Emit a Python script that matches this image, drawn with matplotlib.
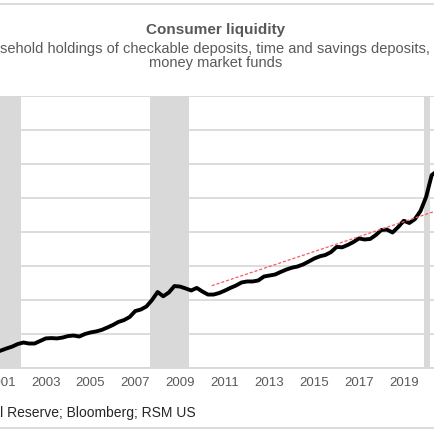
import matplotlib
matplotlib.use("Agg")
import matplotlib.pyplot as plt
import numpy as np

plt.rcParams['font.family'] = ['Liberation Sans', 'DejaVu Sans']

# ---- data (trillions of dollars, quarterly) ----
quarters = [2000.75,
            2001.0, 2001.25, 2001.5, 2001.75,
            2002.0, 2002.25, 2002.5, 2002.75,
            2003.0, 2003.25, 2003.5, 2003.75,
            2004.0, 2004.25, 2004.5, 2004.75,
            2005.0, 2005.25, 2005.5, 2005.75,
            2006.0, 2006.25, 2006.5, 2006.75,
            2007.0, 2007.25, 2007.5, 2007.75,
            2008.0, 2008.25, 2008.5, 2008.75,
            2009.0, 2009.25, 2009.5, 2009.75,
            2010.0, 2010.25, 2010.5, 2010.75,
            2011.0, 2011.25, 2011.5, 2011.75,
            2012.0, 2012.25, 2012.5, 2012.75,
            2013.0, 2013.25, 2013.5, 2013.75,
            2014.0, 2014.25, 2014.5, 2014.75,
            2015.0, 2015.25, 2015.5, 2015.75,
            2016.0, 2016.25, 2016.5, 2016.75,
            2017.0, 2017.25, 2017.5, 2017.75,
            2018.0, 2018.25, 2018.5, 2018.75,
            2019.0, 2019.25, 2019.5, 2019.75,
            2020.0, 2020.25, 2020.5]
liquidity = [4.91,
             5.03, 5.15, 5.26, 5.41,
             5.50, 5.44, 5.44, 5.59,
             5.74, 5.76, 5.74, 5.79,
             5.88, 5.91, 5.85, 6.00,
             6.09, 6.15, 6.24, 6.38,
             6.53, 6.71, 6.82, 7.00,
             7.35, 7.44, 7.62, 8.00,
             8.47, 8.22, 8.44, 8.82,
             8.79, 8.68, 8.56, 8.71,
             8.50, 8.32, 8.32, 8.41,
             8.55, 8.71, 8.85, 9.03,
             9.09, 9.09, 9.15, 9.38,
             9.44, 9.50, 9.65, 9.79,
             9.90, 9.97, 10.09, 10.26,
             10.44, 10.57, 10.65, 10.82,
             11.12, 11.10, 11.24, 11.41,
             11.62, 11.56, 11.59, 11.82,
             12.12, 12.14, 11.97, 12.29,
             12.66, 12.53, 12.76, 13.24,
             14.06, 15.35, 15.59]

trend_years = [2010.42, 2020.40]
trend_values = [8.84, 13.22]

recessions = [(2000.90, 2001.89), (2007.66, 2009.40), (2019.90, 2020.16)]

tick_years = [2001, 2003, 2005, 2007, 2009, 2011, 2013, 2015, 2017, 2019]

title = "Consumer liquidity"
subtitle = ("Household holdings of checkable deposits, time and savings deposits, and\n"
            "money market funds")
source = "Source: Federal Reserve; Bloomberg; RSM US"

# ---- figure ----
W = H = 435
fig = plt.figure(figsize=(4.35, 4.35), dpi=100)
fig.patch.set_facecolor('white')

ax = fig.add_axes([0.0, (H - 369) / H, 1.0, (369 - 97) / H])
ax.set_xlim(2000.955, 2020.397)
ax.set_ylim(4, 20)

grid_c = '#d9d9d9'
for a, b in recessions:
    ax.axvspan(a, b, color='#d9d9d9', lw=0, zorder=0)

ax.set_yticks(np.arange(4, 21, 2))
ax.yaxis.grid(True, color=grid_c, lw=1.3, zorder=1)
ax.set_axisbelow(True)
ax.tick_params(axis='y', left=False, labelleft=False)

ax.plot(quarters, liquidity, color='black', lw=2.8, solid_joinstyle='round', zorder=3, clip_on=True)
ax.plot(trend_years, trend_values, color='#ff5a5a', lw=0.9, dashes=(2.5, 1.5), zorder=4)

ax.set_xticks(tick_years)
ax.set_xticklabels([str(y) for y in tick_years])
ax.tick_params(axis='x', length=0, pad=6, labelsize=9.5, labelcolor='#595959')

for s in ['left', 'right', 'top']:
    ax.spines[s].set_visible(False)
ax.spines['bottom'].set_color(grid_c)
ax.spines['bottom'].set_linewidth(1.3)

# frame lines
fig.add_artist(plt.Line2D([0, 1], [1 - 5 / H, 1 - 5 / H], transform=fig.transFigure, color=grid_c, lw=1.3))
fig.add_artist(plt.Line2D([0, 1], [1 - 429 / H, 1 - 429 / H], transform=fig.transFigure, color=grid_c, lw=1.3))

# titles
fig.text(216 / W, 1 - 30 / H, title, ha='center', va='center', fontsize=11,
         fontweight='bold', color='#595959')
fig.text(216 / W, 1 - 56 / H, subtitle, ha='center', va='center', fontsize=10.5,
         color='#595959', linespacing=1.05)

# source: place so that "Reserve" starts at x=7px
renderer = fig.canvas.get_renderer()
prefix = fig.text(0, 0, "Source: Federal ", fontsize=10)
pw = prefix.get_window_extent(renderer).width
prefix.remove()
fig.text((7 - pw) / W, 1 - 413 / H, source, ha='left', va='center', fontsize=10, color='#262626')

fig.savefig('out.png', dpi=100)
